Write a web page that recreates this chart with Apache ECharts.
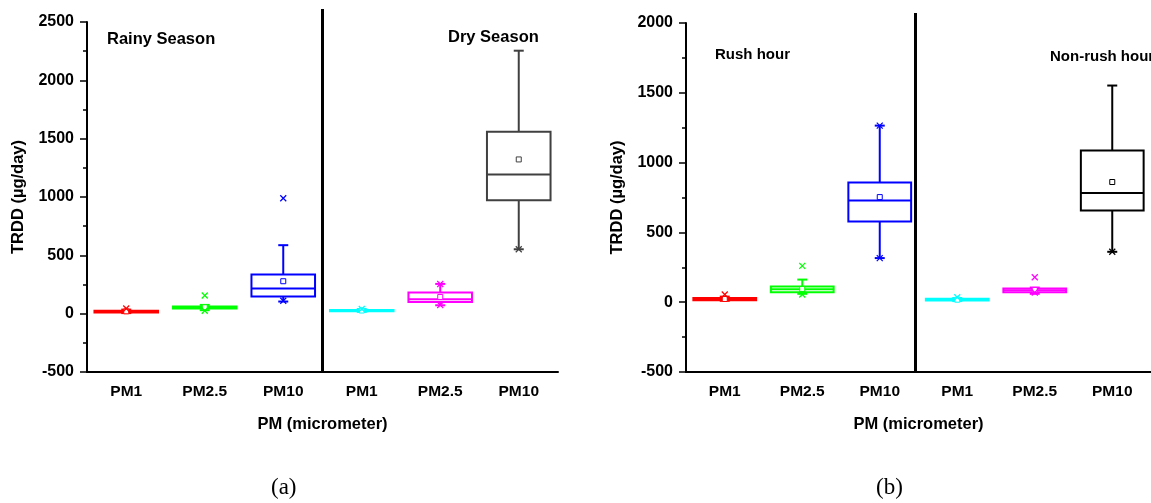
<!DOCTYPE html>
<html>
<head>
<meta charset="utf-8">
<script src="https://cdn.jsdelivr.net/npm/echarts@6/dist/echarts.min.js"></script>
<style>
html,body{margin:0;padding:0;background:#fff;}
#main{width:1151px;height:503px;}
</style>
</head>
<body>
<div id="main"></div>
<script>
// ---------- data ----------
const categories = ['PM1', 'PM2.5', 'PM10', 'PM1', 'PM2.5', 'PM10'];
// each row: [lower whisker, Q1, median, Q3, upper whisker, mean]
const seasonStats = [
  [5, 10, 18, 25, 35, 20],
  [30, 45, 52, 62, 75, 55],
  [104, 147, 215, 335, 587, 278],
  [15, 20, 25, 32, 40, 27],
  [72, 100, 124, 181, 255, 143],
  [552, 973, 1193, 1559, 2254, 1322]
];
// [category index, value]
const seasonMarkers = [[0, 45], [1, 155], [1, 25], [2, 990], [2, 110], [3, 40], [4, 255], [4, 75], [5, 552]];
const hourStats = [
  [10, 14, 21, 30, 40, 23],
  [60, 72, 93, 112, 162, 95],
  [316, 578, 729, 858, 1265, 753],
  [8, 12, 17, 24, 30, 18],
  [60, 72, 85, 98, 105, 88],
  [361, 657, 782, 1086, 1552, 861]
];
const hourMarkers = [[0, 55], [1, 260], [1, 55], [2, 1265], [2, 316], [3, 35], [4, 179], [4, 70], [5, 361]];
const seasonLabels = ['Rainy Season', 'Dry Season'];
const hourLabels = ['Rush hour', 'Non-rush hour'];
const yTitle = 'TRDD (µg/day)';
const xTitle = 'PM (micrometer)';

// ---------- styles ----------
const seasonColors = ['#ff0000', '#00ff00', '#0000ff', '#00ffff', '#ff00ff', '#404040'];
const hourColors = ['#ff0000', '#00ff00', '#0000ff', '#00ffff', '#ff00ff', '#000000'];
const FONT = '"Liberation Sans", Arial, sans-serif';

function boxRenderer(colors) {
  return function (params, api) {
    const idx = api.value(0);
    const c = colors[idx];
    const band = api.size([1, 0])[0];
    const bw = band * 0.81;
    const cx = api.coord([idx, 0])[0];
    const y = v => api.coord([idx, v])[1];
    const lo = y(api.value(1)), q1 = y(api.value(2)), med = y(api.value(3)),
          q3 = y(api.value(4)), hi = y(api.value(5)), mean = y(api.value(6));
    const st = {stroke: c, lineWidth: 2, fill: null};
    const cap = 5;
    return {
      type: 'group',
      children: [
        {type: 'line', shape: {x1: cx, y1: q3, x2: cx, y2: hi}, style: st},
        {type: 'line', shape: {x1: cx, y1: q1, x2: cx, y2: lo}, style: st},
        {type: 'line', shape: {x1: cx - cap, y1: hi, x2: cx + cap, y2: hi}, style: st},
        {type: 'line', shape: {x1: cx - cap, y1: lo, x2: cx + cap, y2: lo}, style: st},
        {type: 'rect', shape: {x: cx - bw / 2, y: q3, width: bw, height: q1 - q3}, style: {stroke: c, lineWidth: 2, fill: '#fff'}},
        {type: 'line', shape: {x1: cx - bw / 2, y1: med, x2: cx + bw / 2, y2: med}, style: st},
        {type: 'rect', shape: {x: cx - 2.5, y: mean - 2.5, width: 5, height: 5}, style: {stroke: c, lineWidth: 1, fill: '#fff'}}
      ]
    };
  };
}
function markerRenderer(colors) {
  return function (params, api) {
    const idx = api.value(0);
    const p = api.coord([idx, api.value(1)]);
    const c = colors[idx];
    const s = 3;
    const st = {stroke: c, lineWidth: 1.3};
    return {
      type: 'group',
      children: [
        {type: 'line', shape: {x1: p[0] - s, y1: p[1] - s, x2: p[0] + s, y2: p[1] + s}, style: st},
        {type: 'line', shape: {x1: p[0] - s, y1: p[1] + s, x2: p[0] + s, y2: p[1] - s}, style: st}
      ]
    };
  };
}

function xAxisDef(gi) {
  return {
    type: 'category', gridIndex: gi, data: categories,
    boundaryGap: true,
    name: xTitle, nameLocation: 'middle', nameGap: 44,
    nameTextStyle: {fontFamily: FONT, fontWeight: 'bold', fontSize: 16.5, color: '#000'},
    axisLine: {onZero: false, lineStyle: {color: '#000', width: 2}},
    axisTick: {alignWithLabel: true, length: 6, inside: false, lineStyle: {color: '#000', width: 1.5}},
    axisLabel: {fontFamily: FONT, fontWeight: 'bold', fontSize: 15.5, color: '#000', margin: 12},
    splitLine: {show: false}
  };
}
function yAxisDef(gi, max) {
  return {
    type: 'value', gridIndex: gi, min: -500, max: max, interval: 500,
    name: yTitle, nameLocation: 'middle', nameGap: 60, nameRotate: 90,
    nameTextStyle: {fontFamily: FONT, fontWeight: 'bold', fontSize: 16.5, color: '#000'},
    axisLine: {show: true, onZero: false, lineStyle: {color: '#000', width: 2}},
    axisTick: {show: true, length: 7, lineStyle: {color: '#000', width: 1.5}},
    minorTick: {show: true, splitNumber: 2, length: 4, lineStyle: {color: '#000', width: 1.5}},
    axisLabel: {fontFamily: FONT, fontWeight: 'bold', fontSize: 16, color: '#000', margin: 13,
      formatter: v => String(v)},
    splitLine: {show: false}
  };
}

const chart = echarts.init(document.getElementById('main'), null, {renderer: 'canvas'});
const option = {
  backgroundColor: '#fff',
  animation: false,
  grid: [
    {left: 87, top: 22, width: 471, height: 350},
    {left: 686, top: 23, width: 472, height: 349}
  ],
  xAxis: [xAxisDef(0), xAxisDef(1)],
  yAxis: [yAxisDef(0, 2500), yAxisDef(1, 2000)],
  series: [
    {type: 'custom', xAxisIndex: 0, yAxisIndex: 0, renderItem: boxRenderer(seasonColors),
     data: seasonStats.map((r, i) => [i].concat(r)), encode: {x: 0, y: [1, 2, 3, 4, 5, 6]}, z: 2},
    {type: 'custom', xAxisIndex: 0, yAxisIndex: 0, renderItem: markerRenderer(seasonColors),
     data: seasonMarkers, encode: {x: 0, y: 1}, z: 3},
    {type: 'custom', xAxisIndex: 1, yAxisIndex: 1, renderItem: boxRenderer(hourColors),
     data: hourStats.map((r, i) => [i].concat(r)), encode: {x: 0, y: [1, 2, 3, 4, 5, 6]}, z: 2},
    {type: 'custom', xAxisIndex: 1, yAxisIndex: 1, renderItem: markerRenderer(hourColors),
     data: hourMarkers, encode: {x: 0, y: 1}, z: 3}
  ]
};
chart.setOption(option);

// dividers and annotations
const xa2 = chart.convertToPixel({xAxisIndex: 0}, 2), xa3 = chart.convertToPixel({xAxisIndex: 0}, 3);
const xb2 = chart.convertToPixel({xAxisIndex: 1}, 2), xb3 = chart.convertToPixel({xAxisIndex: 1}, 3);
const bottomA = chart.convertToPixel({yAxisIndex: 0}, -500);
const bottomB = chart.convertToPixel({yAxisIndex: 1}, -500);
const txt = (x, y, s, size) => ({type: 'text', left: x, top: y,
  style: {text: s, fontFamily: FONT, fontWeight: 'bold', fontSize: size, fill: '#000'}});
chart.setOption({
  graphic: [
    {type: 'line', shape: {x1: (xa2 + xa3) / 2, y1: 9, x2: (xa2 + xa3) / 2, y2: bottomA}, style: {stroke: '#000', lineWidth: 3}},
    {type: 'line', shape: {x1: (xb2 + xb3) / 2 - 3, y1: 13, x2: (xb2 + xb3) / 2 - 3, y2: bottomB}, style: {stroke: '#000', lineWidth: 3}},
    txt(107, 31, seasonLabels[0], 16.5),
    txt(448, 29, seasonLabels[1], 16.5),
    txt(715, 47, hourLabels[0], 15),
    txt(1050, 49, hourLabels[1], 15),
    {type: 'text', left: 271, top: 476, style: {text: '(a)', fontFamily: '"Liberation Serif", "Times New Roman", serif', fontSize: 23, fill: '#000'}},
    {type: 'text', left: 876, top: 476, style: {text: '(b)', fontFamily: '"Liberation Serif", "Times New Roman", serif', fontSize: 23, fill: '#000'}}
  ]
});
</script>
</body>
</html>
